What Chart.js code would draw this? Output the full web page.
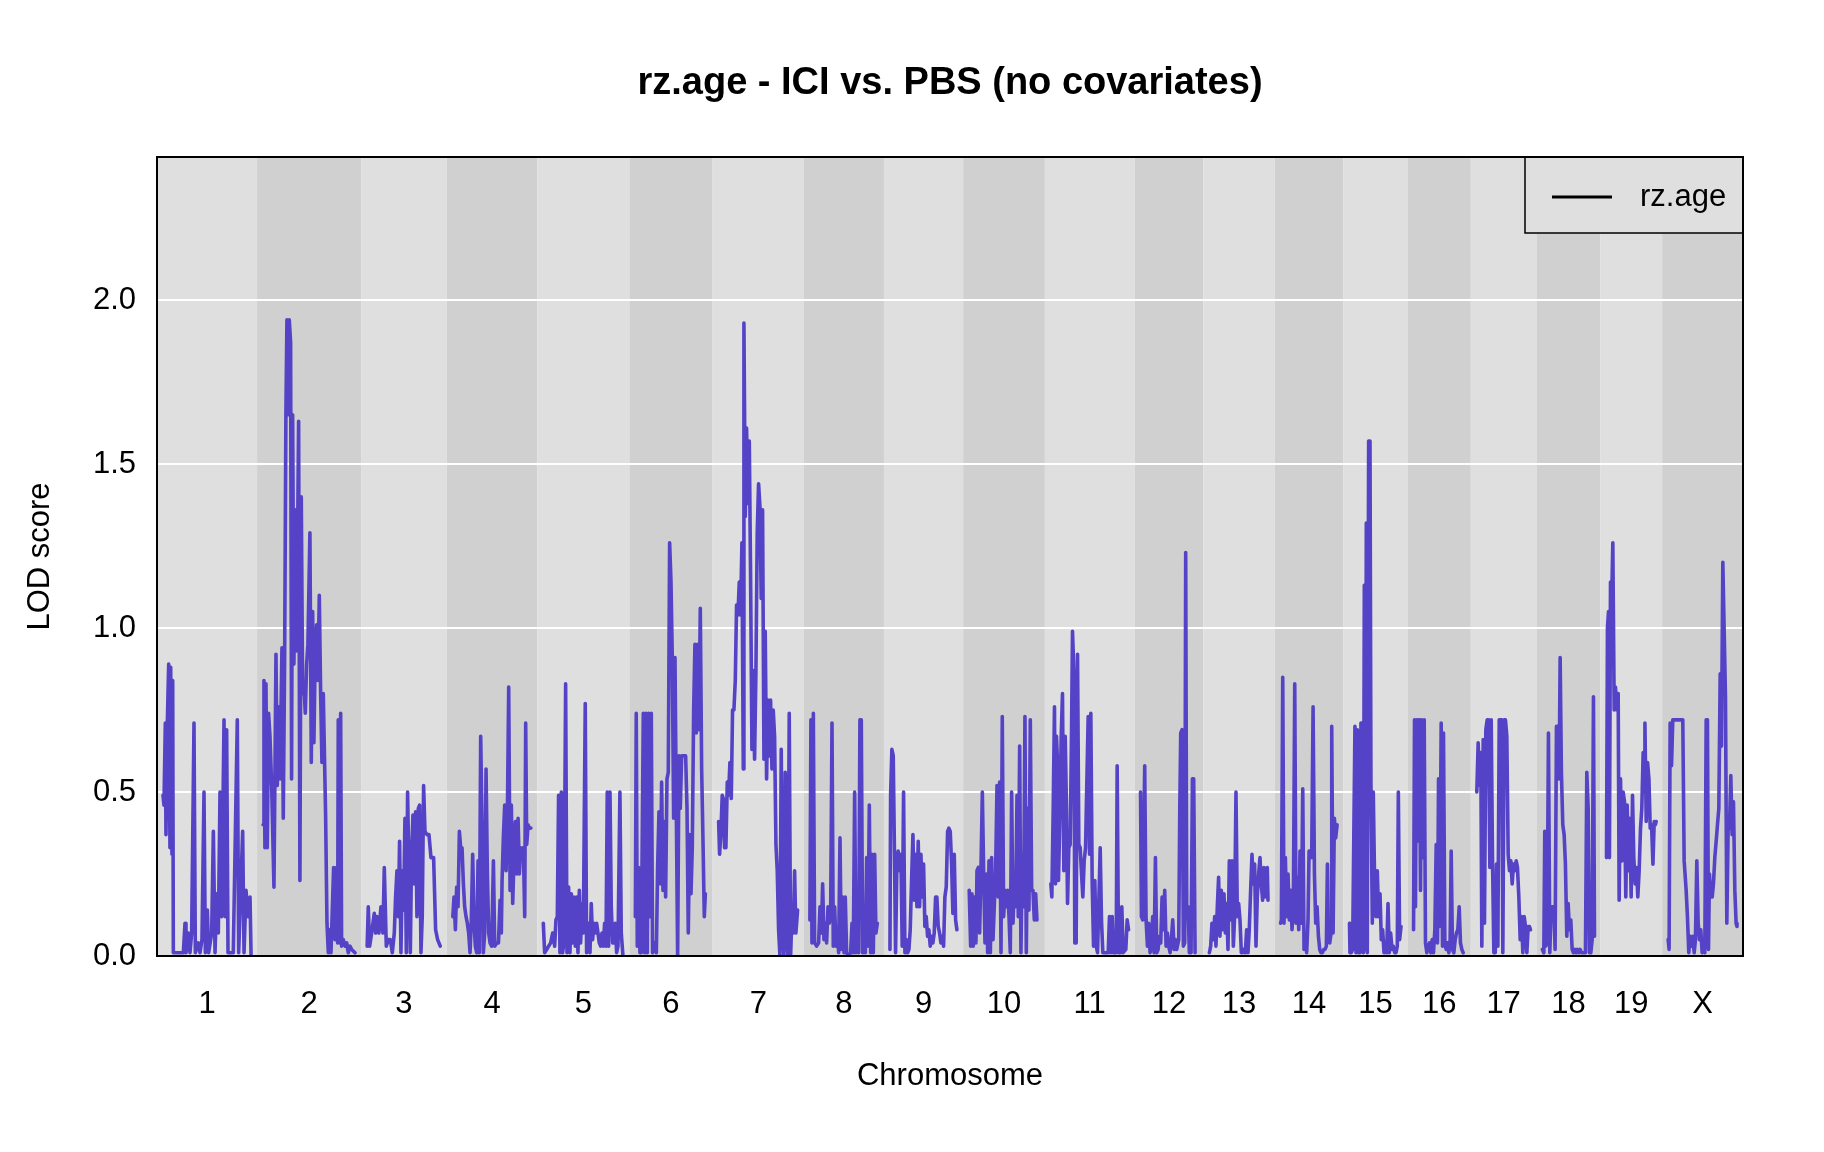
<!DOCTYPE html>
<html>
<head>
<meta charset="utf-8">
<title>rz.age - ICI vs. PBS (no covariates)</title>
<script src="https://cdn.jsdelivr.net/npm/chart.js@4.4.1/dist/chart.umd.min.js"></script>
<style>
  html, body { margin: 0; padding: 0; background: #fff; }
  canvas { display: block; }
</style>
</head>
<body>
<canvas id="lodChart" width="1824" height="1152"></canvas>
<script>
// ── Datos: cromosomas, longitudes (cM) y perfiles LOD ─────────────────────────
const chromosomes = ['1','2','3','4','5','6','7','8','9','10','11','12','13','14','15','16','17','18','19','X'];
const chrLengths  = [110, 115, 92, 98, 100, 89, 99, 85, 84, 87, 97, 71, 74, 71, 65, 64, 67, 65, 62, 86];
const gapCM       = 15;
const yTicks      = [0, 0.5, 1, 1.5, 2];
const seriesName  = 'rz.age';
const chartTitle  = 'rz.age - ICI vs. PBS (no covariates)';

// [posición en el cromosoma (cM), LOD]
const chr1 = [[0,.49],[1.2,.46],[2.9,.71],[3.7,.37],[5.4,.71],[7.1,.89],[8.7,.33],[9.6,.88],[11.2,.31],[12.1,.84],[12.9,.01],[25.4,.01],[27.5,.10],[28.7,.01],[31.6,.07],[33.7,.01],[35.8,.07],[38.7,.71],[40.4,.01],[44.1,.04],[46.2,.01],[48.7,.05],[51.2,.50],[52.9,.01],[55.4,.14],[57,.01],[60.8,.07],[62.9,.38],[65,.01],[67,.19],[69.1,.07],[71.2,.50],[73.3,.12],[76.2,.72],[77.8,.12],[79.5,.69],[81.2,.01],[87.8,.01],[92.8,.72],[94.5,.01],[99.5,.38],[101.2,.01],[103.7,.20],[106.2,.12],[108.7,.18],[110,0]];
const chr2 = [[0,.40],[1.1,.84],[2.3,.33],[3.6,.83],[5.2,.33],[6.9,.74],[8.6,.67],[10.7,.52],[13.6,.21],[16.1,.92],[17.7,.52],[19.8,.76],[21.1,.54],[23.6,.94],[25.2,.42],[26.9,.90],[28.5,1.65],[29.8,1.94],[31.5,1.65],[32.7,1.94],[34.4,1.87],[35.6,.54],[36.9,1.65],[38.5,.89],[40.2,1.36],[41.9,.93],[44.4,1.63],[46,.23],[47.7,1.40],[49.4,.80],[51,.83],[52.7,.74],[54.4,.89],[56,.95],[58.5,1.29],[60.2,.59],[61.9,1.05],[63.5,.65],[65.2,.94],[66.9,1.01],[68.5,.84],[70.2,1.10],[71.9,.80],[73.5,.59],[75.2,.80],[78.1,.43],[79.8,.10],[81.5,.01],[83.1,.08],[84.8,.01],[88.1,.27],[89.8,.05],[91.4,.27],[93.1,.04],[93.9,.72],[95.6,.04],[96.9,.74],[98.1,.03],[100.2,.05],[102.3,.03],[104.4,.04],[106.4,.01],[108.5,.03],[110.6,.02],[114.8,.01]];
const chr3 = [[0,.03],[1.4,.15],[3.1,.03],[5.6,.07],[8.9,.13],[10.6,.07],[12.2,.12],[14.7,.07],[17.2,.15],[19.7,.07],[21.4,.27],[23.9,.03],[26.4,.05],[28.9,.05],[31.4,.01],[33.9,.07],[35.5,.18],[37.2,.26],[38.9,.12],[40.5,.35],[42.2,.01],[43.9,.26],[45.5,.14],[47.2,.42],[48.9,.01],[50.5,.50],[52.2,.26],[53.9,.01],[55.5,.31],[57.2,.43],[58.9,.22],[60.5,.44],[62.2,.12],[63.9,.45],[65.5,.46],[67.2,.01],[68.8,.12],[70.5,.52],[72.2,.38],[74.7,.37],[77.2,.37],[79.7,.30],[83,.30],[85.5,.08],[88,.05],[91.3,.03]];
const chr4 = [[0,.12],[1.5,.18],[3.2,.08],[4.8,.21],[6.5,.15],[8.2,.38],[9.8,.33],[11.5,.33],[13.2,.22],[14.8,.15],[16.5,.12],[18.1,.10],[19.8,.07],[21.5,.01],[23.1,.11],[24.8,.31],[26.5,.10],[28.1,.03],[29.8,.01],[31.5,.29],[33.1,.01],[34.8,.67],[36.5,.40],[38.1,.01],[39.8,.07],[41.5,.57],[43.1,.26],[44.8,.07],[46.5,.04],[48.5,.03],[50.7,.29],[52.3,.03],[55,.04],[57,.04],[59,.17],[60.6,.07],[61.5,.23],[63.1,.36],[64.8,.46],[66.5,.26],[68.1,.42],[69.8,.82],[71.5,.20],[73.1,.46],[74.8,.16],[76.5,.31],[78.1,.41],[79.8,.25],[81.5,.42],[83.1,.25],[84.8,.33],[86.5,.31],[88.1,.33],[89.8,.12],[91,.71],[92.3,.34],[94,.40],[95.6,.39],[97.5,.39]];
const chr5 = [[0,.10],[1.7,.01],[4.2,.02],[6.7,.03],[9.2,.04],[11.7,.07],[14.2,.03],[15.8,.11],[17.5,.12],[19.1,.49],[20.8,.01],[22.5,.50],[24.1,.01],[25.8,.04],[27.9,.83],[29.6,.01],[31.6,.21],[33.3,.01],[35,.19],[36.6,.04],[38.3,.18],[40,.03],[41.6,.18],[43.3,.01],[45,.20],[46.6,.04],[48.3,.16],[50,.07],[52.4,.77],[54.1,.01],[56.6,.10],[58.3,.01],[59.9,.16],[61.6,.05],[63.3,.10],[64.9,.07],[66.6,.10],[68.3,.07],[69.9,.04],[71.6,.03],[73.3,.07],[74.9,.03],[76.6,.10],[78.3,.03],[79.9,.50],[81.6,.03],[83.3,.50],[84.9,.15],[86.6,.04],[88.3,.04],[89.9,.10],[91.6,.01],[93.3,.03],[95.7,.50],[97.4,.07],[99.5,0]];
const chr6 = [[0,.12],[1.1,.74],[2.4,.03],[4.1,.27],[5.7,.01],[7.4,.01],[9.9,.74],[11.6,.01],[13.2,.74],[14.9,.01],[16.5,.74],[18.2,.12],[19.9,.74],[21.5,.01],[22.8,.04],[24.5,.04],[26.2,.01],[27.8,.27],[29.5,.44],[31.2,.22],[32.8,.53],[34.5,.20],[36.1,.41],[37.8,.18],[39.5,.54],[41.1,.56],[42.8,1.26],[44.5,1.14],[46.1,.91],[47.8,.42],[49.5,.91],[51.1,.46],[52.8,0],[54.5,.61],[56.1,.45],[57.8,.61],[59.5,.61],[61.1,.61],[62.8,.61],[64.5,.45],[66.1,.07],[67.8,.37],[69.5,.19],[71.1,.33],[72.8,.75],[74.4,.95],[76.1,.68],[77.8,.95],[79.4,.69],[81.1,1.06],[82.8,.57],[84.4,.36],[86.1,.12],[87.4,.19]];
const chr7 = [[0,.41],[1.2,.31],[2.9,.38],[4.5,.49],[5.8,.48],[7.4,.33],[9.1,.33],[10.8,.53],[12.4,.49],[14.1,.59],[15.8,.48],[17.4,.75],[19.1,.75],[20.8,.84],[22.4,1.07],[24.1,1.04],[25.8,1.14],[27.4,1.04],[29.1,1.26],[30.8,.57],[31.6,1.93],[33.3,1.34],[34.9,1.61],[36.6,1.38],[38.3,1.57],[39.9,1.16],[41.6,.63],[43.2,.87],[44.9,.60],[46.6,.87],[48.2,1.29],[49.9,1.44],[51.6,1.37],[53.2,1.09],[54.9,1.36],[56.6,.60],[58.2,.99],[59.9,.54],[61.6,.78],[63.2,.61],[64.9,.78],[66.6,.57],[68.2,.75],[69.9,.67],[71.6,.34],[73.2,.26],[74.9,.08],[76.6,0],[78.2,.63],[79.9,.10],[81.5,0],[83.2,.56],[84.9,.07],[86.5,0],[88.2,.74],[89.9,0],[91.5,.12],[93.2,.07],[94.9,.26],[96.5,.07],[98.6,.14]];
const chr8 = [[0,.11],[1.3,.72],[2.6,.04],[4.3,.74],[5.9,.04],[8.4,.03],[10.9,.04],[12.6,.15],[14.3,.07],[15.9,.22],[17.6,.05],[19.2,.10],[20.9,.04],[22.6,.15],[24.2,.10],[25.9,.12],[27.6,.71],[29.2,.03],[30.9,.15],[32.6,.03],[34.2,.07],[35.9,.01],[37.6,.36],[39.2,.02],[40.9,.18],[42.6,.01],[44.2,.18],[45.9,.01],[48.4,0],[50.9,.01],[52.6,.10],[54.2,.01],[55.9,.50],[57.5,.01],[59.2,.12],[60.9,.01],[62.5,.72],[64.2,.72],[65.9,.01],[67.5,.12],[69.2,.01],[70.9,.30],[72.5,.03],[74.2,.46],[75.9,.01],[77.5,.31],[79.2,.01],[80.9,.31],[82.5,.07],[84.2,.10]];
const chr9 = [[0,.02],[0.8,.49],[2.4,.63],[4.1,.61],[5.8,.28],[7,.01],[8.7,.28],[10.3,.32],[12,.26],[13.7,.31],[15.3,.03],[17,.50],[18.7,.01],[20.3,.05],[22,.01],[23.7,.02],[25.3,.08],[27,.23],[28.7,.37],[30.3,.17],[32,.31],[33.7,.15],[35.3,.35],[37,.15],[38.7,.31],[40.3,.18],[42,.28],[43.6,.09],[45.3,.12],[47,.06],[48.6,.08],[50.3,.03],[52,.06],[53.6,.04],[55.3,.07],[57,.18],[58.6,.18],[60.3,.09],[62,.07],[63.6,.04],[65.3,.06],[67,.03],[68.6,.18],[70.3,.21],[72,.38],[73.6,.39],[75.3,.38],[77,.28],[78.6,.13],[80.3,.31],[82,.11],[83.6,.08]];
const chr10 = [[0,.20],[1.8,.03],[3.4,.19],[5.1,.03],[6.8,.18],[8.4,.04],[9.7,.26],[11.4,.27],[13,.07],[14.7,.27],[16.4,.50],[18,.26],[19.7,.04],[21.4,.25],[23,.01],[24.7,.29],[26.4,.01],[28,.30],[29.7,.05],[31.3,.15],[33,.26],[34.7,.52],[36.3,.18],[38,.53],[39.7,.01],[41.3,.73],[43,.12],[44.7,.20],[46.3,.15],[48,.20],[49.7,.12],[51.3,.01],[53,.50],[54.7,.10],[56.3,.22],[58,.15],[59.7,.49],[61.3,.12],[63,.64],[64.6,.01],[66.3,.31],[68,.15],[69.6,.73],[71.3,.01],[73,.45],[74.6,.14],[76.3,.72],[78,.20],[79.6,.20],[81.3,.11],[83,.19],[84.6,.11]];
const chr11 = [[0,.22],[1.2,.18],[2.9,.45],[4.5,.76],[5.8,.22],[7,.67],[8.3,.59],[9.5,.23],[11.2,.42],[12.9,.67],[14.5,.80],[16.2,.26],[17.9,.67],[19.5,.45],[20.8,.16],[22.4,.33],[24.1,.34],[25.8,.68],[27,.99],[28.7,.87],[29.9,.04],[31.6,.04],[33.3,.92],[34.9,.34],[36.6,.33],[38.3,.25],[39.9,.18],[41.6,.29],[43.3,.33],[44.9,.53],[46.6,.73],[48.3,.31],[49.9,.74],[51.6,.22],[53.3,.03],[54.9,.23],[56.6,.03],[58.3,.01],[61.6,.33],[63.2,.11],[64.9,.01],[71.6,.01],[73.2,.12],[74.9,.01],[76.6,.12],[78.2,.01],[81.6,.01],[82.8,.58],[84.5,.01],[87,.01],[88.6,.15],[90.3,.01],[93.6,.02],[95.3,.11],[97,.08]];
const chr12 = [[0,.50],[1.1,.12],[2.7,.11],[5.2,.58],[6.9,.11],[8.6,.03],[10.2,.10],[11.9,.01],[13.6,.03],[15.2,.12],[16.9,.01],[18.6,.30],[20.2,.01],[21.9,.02],[23.6,.06],[25.2,.04],[26.9,.18],[28.5,.08],[30.2,.20],[31.9,.03],[33.5,.07],[35.2,.03],[36.9,.01],[38.5,.05],[40.2,.11],[41.9,.02],[43.5,.05],[45.2,.02],[47.7,.05],[49,.45],[50.2,.68],[51.9,.69],[53.5,.03],[55.2,.04],[56.4,1.23],[57.7,.12],[59.4,.15],[61,.01],[63.1,.01],[64.8,.54],[66.4,.54],[68.1,.01]];
const chr13 = [[0,.01],[1.6,.03],[3.2,.10],[4.9,.05],[6.6,.12],[8.2,.03],[9.9,.15],[11.5,.24],[13.2,.06],[14.9,.20],[16.5,.08],[18.2,.19],[19.9,.07],[21.5,.16],[23.2,.02],[24.9,.29],[26.5,.11],[28.2,.29],[29.9,.03],[31.5,.12],[33.2,.50],[34.9,.12],[36.5,.16],[38.2,.11],[39.9,.01],[41.5,.01],[43.2,.02],[44.9,.01],[46.5,.08],[48.2,.01],[49.8,.08],[51.5,.20],[53.2,.31],[54.8,.22],[56.5,.28],[58.2,.03],[59.8,.18],[61.5,.25],[63.2,.30],[64.8,.22],[66.5,.17],[68.1,.27],[69.8,.18],[72.3,.27],[73.2,.17]];
const chr14 = [[0,.10],[0.9,.11],[2.6,.85],[4.2,.10],[5.9,.30],[7.6,.12],[9.2,.25],[10.9,.11],[12.6,.20],[14.2,.08],[15.9,.16],[17.6,.83],[19.2,.10],[20.9,.24],[22.6,.08],[24.2,.32],[25.9,.10],[27.6,.51],[29.2,.02],[30.9,.07],[32.5,.01],[34.2,.11],[35.5,.32],[37.2,.32],[38.8,.30],[40.5,.76],[42.2,.25],[43.8,.10],[45.5,.15],[47.2,.06],[48.8,.02],[50.5,.01],[52.2,.01],[53.8,.02],[55.5,.02],[57.1,.03],[58.4,.28],[59.6,.06],[61.3,.04],[63,.07],[63.8,.70],[65.5,.07],[67.1,.42],[68.8,.36],[70.5,.40]];
const chr15 = [[0,.10],[0.6,.01],[2.3,.01],[3.9,.02],[6.8,.70],[8.1,.01],[9.8,.69],[11.4,.01],[13.1,.01],[14.3,.71],[16,.71],[17.3,.01],[18.5,1.13],[19.8,.02],[21,1.32],[22.2,.01],[23.9,1.57],[25.6,1.57],[26.8,.52],[28.5,.10],[29.7,.50],[31.4,.22],[33.1,.12],[34.7,.26],[36.4,.12],[38.1,.19],[39.7,.05],[41.4,.08],[43.1,.01],[44.7,.04],[46.4,.01],[48.1,.16],[49.7,.01],[51.4,.07],[53.1,.02],[54.7,.03],[56.4,.01],[58.1,.01],[59.7,.03],[61,.50],[62.6,.05],[64.3,.09]];
const chr16 = [[0,.08],[1.2,.72],[2.4,.15],[3.7,.72],[4.9,.35],[6.2,.72],[7.4,.72],[8.7,.20],[9.9,.72],[11.6,.30],[13.3,.72],[14.9,.04],[16.6,.01],[18.3,.03],[19.9,.04],[21.6,.01],[23.3,.05],[24.9,.01],[26.6,.08],[28.3,.34],[29.9,.04],[31.2,.54],[32.8,.09],[34.5,.71],[36.2,.03],[37.4,.68],[39.1,.04],[40.7,.02],[42.4,.04],[44.1,.01],[45.7,.05],[47,.32],[48.6,.02],[50.3,.01],[52,.05],[53.6,.07],[55.3,.08],[57,.15],[58.6,.04],[60.3,.02],[62,.01]];
const chr17 = [[0,.50],[1.7,.65],[3.4,.52],[5,.62],[6.3,.03],[8,.66],[9.6,.10],[11.3,.69],[13,.72],[14.6,.72],[16.3,.27],[18,.72],[19.6,.30],[21.3,.01],[23,.01],[24.6,.28],[26.3,.03],[28,.72],[29.6,.72],[31.3,.72],[32.5,.01],[34.2,.72],[35.8,.72],[37.5,.67],[39.2,.31],[40.8,.26],[42.5,.29],[44.2,.22],[45.8,.28],[47.5,.26],[49.2,.29],[50.8,.27],[52.5,.18],[54.2,.05],[55.8,.12],[57.5,.01],[59.2,.12],[60.8,.09],[62.5,.01],[64.2,.09],[65.8,.09],[67,.08]];
const chr18 = [[0,.02],[1.7,.01],[2.9,.38],[4.2,.03],[5.8,.04],[7.5,.68],[9.2,.01],[10.8,.15],[12.5,.15],[14.2,.15],[15.8,.02],[17.5,.70],[19.2,.70],[20.8,.54],[22.1,.91],[23.7,.56],[25.4,.40],[27.1,.37],[28.7,.28],[30.4,.06],[32.1,.16],[33.7,.08],[35.4,.11],[37.1,.02],[38.7,.01],[40.4,.02],[42.1,.01],[43.7,.02],[45.4,.01],[47.1,.02],[48.7,.01],[52.1,.01],[53.7,.01],[55.4,.56],[57.1,.45],[58.7,.01],[60.4,.01],[62.1,.05],[63.7,.79],[65,.06]];
const chr19 = [[0,.30],[1.2,1.0],[2.5,1.05],[3.7,.30],[5,1.14],[6.2,1.05],[7.9,1.26],[9.6,.75],[11.2,.82],[12.9,.75],[14.6,.80],[15.8,.17],[17.5,.54],[19.2,.29],[20.8,.50],[22.5,.47],[24.1,.18],[25.8,.46],[27.5,.26],[29.1,.42],[30.8,.18],[32.5,.49],[34.1,.30],[35.8,.22],[37.5,.27],[39.1,.18],[40.8,.26],[42.5,.39],[44.1,.45],[45.8,.62],[47.5,.57],[48,.71],[49.6,.41],[51.3,.59],[53,.54],[54.6,.39],[56.3,.40],[58,.28],[59.6,.41],[61,.40],[62,.41]];
const chrX = [[0,.05],[1.2,.02],[2.5,.71],[4.2,.58],[5.8,.72],[8.3,.72],[10.8,.72],[15.8,.72],[18.3,.72],[20,.29],[22.5,.20],[24.1,.12],[25.8,.01],[27.5,.06],[29.1,.03],[30.8,.06],[32.5,.01],[34.1,.05],[35.8,.29],[37.5,.10],[39.1,.05],[40.8,.08],[42.5,.01],[44.1,.03],[45.8,.01],[47.5,.72],[49.1,.72],[50.4,.02],[51.6,.25],[53.3,.18],[55,.18],[56.6,.22],[58.3,.30],[60,.35],[61.6,.40],[63.3,.45],[65,.86],[66.6,.64],[68.3,1.20],[70,.99],[71.6,.79],[73.3,.10],[75,.40],[76.6,.39],[78.3,.55],[79.9,.37],[81.6,.47],[83.3,.20],[84.9,.10],[86,.09]];

const chrData = [chr1, chr2, chr3, chr4, chr5, chr6, chr7, chr8, chr9, chr10,
                 chr11, chr12, chr13, chr14, chr15, chr16, chr17, chr18, chr19, chrX];

// ── Posiciones acumuladas en el genoma ───────────────────────────────────────
const chrStarts = [];
let cum = 0;
chrLengths.forEach(len => { chrStarts.push(cum); cum += len + gapCM; });
const xMin = -gapCM / 2;
const xMax = cum - gapCM / 2;
const chrCenters = chrStarts.map((s, i) => s + chrLengths[i] / 2);

// Un solo dataset; un null entre cromosomas corta la línea
const points = [];
chrData.forEach((rows, i) => {
  if (i > 0) points.push({ x: chrStarts[i] - gapCM / 2, y: null });
  rows.forEach(([pos, lod]) => points.push({ x: chrStarts[i] + pos, y: lod }));
});

const FONT   = '"Liberation Sans", Arial, Helvetica, sans-serif';
const LIGHT  = '#dfdfdf';
const DARK   = '#d0d0d0';
const LINE   = '#5443c6';

// Bandas alternas de fondo por cromosoma
const bandsPlugin = {
  id: 'bands',
  beforeDraw(chart) {
    const { ctx, chartArea: a, scales: { x } } = chart;
    ctx.save();
    chrStarts.forEach((s, i) => {
      const x0 = x.getPixelForValue(s - gapCM / 2);
      const x1 = x.getPixelForValue(s + chrLengths[i] + gapCM / 2);
      ctx.fillStyle = i % 2 === 0 ? LIGHT : DARK;
      ctx.fillRect(x0, a.top, x1 - x0, a.bottom - a.top);
    });
    ctx.restore();
  },
};

// Título, leyenda y marco
const framePlugin = {
  id: 'frame',
  afterDraw(chart) {
    const { ctx, chartArea: a } = chart;
    ctx.save();
    ctx.fillStyle = '#000';
    ctx.font = `bold 38px ${FONT}`;
    ctx.textAlign = 'center';
    ctx.textBaseline = 'middle';
    ctx.fillText(chartTitle, (a.left + a.right) / 2, 84);

    // leyenda
    const lw = 218, lh = 76;
    const lx = a.right - lw, ly = a.top;
    ctx.fillStyle = LIGHT;
    ctx.fillRect(lx, ly, lw, lh);
    ctx.strokeStyle = '#000';
    ctx.lineWidth = 1.5;
    ctx.strokeRect(lx, ly, lw, lh);
    ctx.lineWidth = 3;
    ctx.beginPath();
    ctx.moveTo(lx + 27, ly + lh / 2 + 2);
    ctx.lineTo(lx + 87, ly + lh / 2 + 2);
    ctx.stroke();
    ctx.fillStyle = '#000';
    ctx.font = `31px ${FONT}`;
    ctx.textAlign = 'left';
    ctx.fillText(seriesName, lx + 115, ly + lh / 2 + 2);

    ctx.lineWidth = 2;
    ctx.strokeRect(a.left, a.top, a.right - a.left, a.bottom - a.top);
    ctx.restore();
  },
};

Chart.defaults.font.family = FONT;
Chart.defaults.color = '#000';

new Chart(document.getElementById('lodChart'), {
  type: 'line',
  data: {
    datasets: [{
      label: seriesName,
      data: points,
      borderColor: LINE,
      borderWidth: 3.6,
      borderJoinStyle: 'round',
      borderCapStyle: 'round',
      pointRadius: 0,
      tension: 0,
      spanGaps: false,
    }],
  },
  options: {
    responsive: false,
    animation: false,
    devicePixelRatio: 1,
    layout: { padding: { left: 0, right: 81, top: 157, bottom: 0 } },
    plugins: {
      legend: { display: false },
      tooltip: { enabled: false },
      title: { display: false },
    },
    scales: {
      x: {
        type: 'linear',
        min: xMin,
        max: xMax,
        afterBuildTicks: s => { s.ticks = chrCenters.map(v => ({ value: v })); },
        afterFit: s => { s.height = 196; },
        ticks: {
          autoSkip: false,
          maxRotation: 0,
          padding: 22,
          font: { size: 31 },
          callback: (v, i) => chromosomes[i],
        },
        grid: { display: false },
        border: { display: false },
        title: { display: true, text: 'Chromosome', font: { size: 31 }, padding: { top: 0, bottom: 57 } },
      },
      y: {
        min: 0,
        max: 2.436,
        afterBuildTicks: s => { s.ticks = yTicks.map(v => ({ value: v })); },
        afterFit: s => { s.width = 157; },
        ticks: {
          padding: 21,
          font: { size: 31 },
          callback: v => v.toFixed(1),
        },
        grid: {
          drawTicks: false,
          lineWidth: 2,
          color: c => (c.tick && c.tick.value === 0 ? 'rgba(0,0,0,0)' : '#ffffff'),
        },
        border: { display: false },
        title: { display: true, text: 'LOD score', font: { size: 31 }, padding: { top: 22, bottom: 0 } },
      },
    },
  },
  plugins: [bandsPlugin, framePlugin],
});
</script>
</body>
</html>
